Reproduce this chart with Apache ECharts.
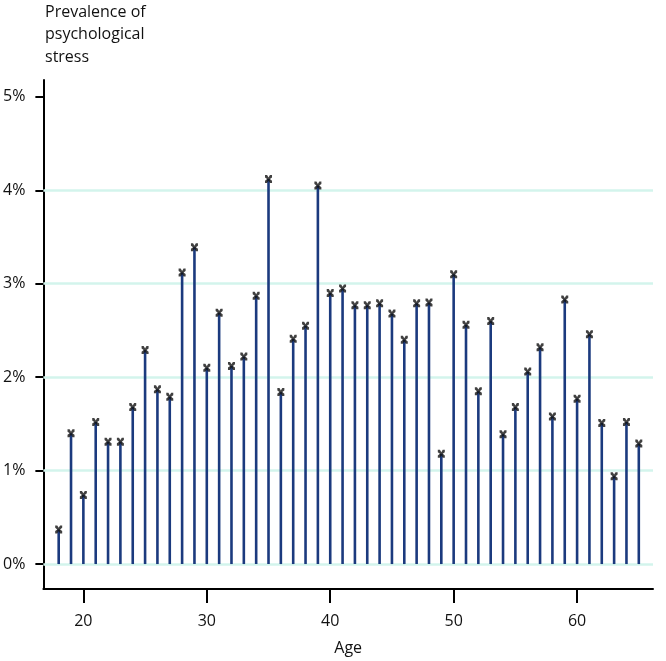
<!DOCTYPE html>
<html>
<head>
<meta charset="utf-8">
<script src="https://cdn.jsdelivr.net/npm/echarts@6/dist/echarts.min.js"></script>
<style>html,body{margin:0;padding:0;background:#fff;}#chart{width:666px;height:661px;}</style>
</head>
<body>
<div id="chart"></div>
<script>
const ages = [18,19,20,21,22,23,24,25,26,27,28,29,30,31,32,33,34,35,36,37,38,39,40,41,42,43,44,45,46,47,48,49,50,51,52,53,54,55,56,57,58,59,60,61,62,63,64,65];
const prevalence = [0.37,1.40,0.74,1.52,1.31,1.31,1.68,2.29,1.87,1.79,3.12,3.39,2.10,2.69,2.12,2.22,2.87,4.12,1.84,2.41,2.55,4.05,2.90,2.95,2.77,2.77,2.79,2.68,2.40,2.79,2.80,1.18,3.10,2.56,1.85,2.60,1.39,1.68,2.06,2.32,1.58,2.83,1.77,2.46,1.51,0.94,1.52,1.29];
const xTicks = [20,30,40,50,60];
const yTicks = [0,1,2,3,4,5];
const gridValues = [0,1,2,3,4];

const FONT = 'Open Sans';
const data = ages.map((a,i)=>[a, prevalence[i]]);
const chart = echarts.init(document.getElementById('chart'), null, {renderer:'canvas'});
const xMark = 'path://M0,0 L3,0 L5,3 L7,0 L10,0 L10,3 L7,5 L10,7 L10,10 L7,10 L5,7 L3,10 L0,10 L0,7 L3,5 L0,3 Z';
chart.setOption({
  animation:false,
  backgroundColor:'#fff',
  title:{
    text:'Prevalence of\npsychological\nstress',
    left:45, top:0, padding:[1,0,0,0],
    textStyle:{fontFamily:FONT,fontSize:16,fontWeight:'normal',color:'#111',lineHeight:22.5}
  },
  grid:{left:43,right:13,top:80,bottom:71},
  xAxis:{
    type:'value', min:16.76, max:66.15,
    name:'Age', nameLocation:'middle', nameGap:51,
    nameTextStyle:{fontFamily:FONT,fontSize:16,color:'#111'},
    axisLine:{show:true,onZero:false,lineStyle:{color:'#000',width:2}},
    axisTick:{show:true,length:14,customValues:xTicks,lineStyle:{color:'#000',width:2}},
    axisLabel:{customValues:xTicks,margin:24,fontFamily:FONT,fontSize:16,color:'#111'},
    splitLine:{show:false}
  },
  yAxis:{
    type:'value', min:-0.267, max:5.18,
    axisLine:{show:true,onZero:false,lineStyle:{color:'#000',width:2}},
    axisTick:{show:true,length:8,customValues:yTicks,lineStyle:{color:'#000',width:2}},
    axisLabel:{customValues:yTicks,margin:18,fontFamily:FONT,fontSize:16,color:'#111',formatter:v=>v+'%'},
    splitLine:{show:false}
  },
  series:[
    {
      type:'custom',
      data:data,
      z:3,
      renderItem:function(params, api){
        const top = api.coord([api.value(0), api.value(1)]);
        const base = api.coord([api.value(0), 0]);
        return {type:'line', shape:{x1:base[0],y1:base[1],x2:top[0],y2:top[1]}, style:{stroke:'#1b3a7e',lineWidth:2.6}};
      },
      markLine:{
        silent:true, symbol:'none', z:1,
        label:{show:false},
        lineStyle:{color:'#d3f4ec',width:2.5,type:'solid'},
        data:gridValues.map(v=>({yAxis:v}))
      }
    },
    {
      type:'scatter',
      data:data,
      z:4,
      symbol:xMark,
      symbolSize:[7,8],
      itemStyle:{color:'#111'}
    }
  ]
});
</script>
</body>
</html>
